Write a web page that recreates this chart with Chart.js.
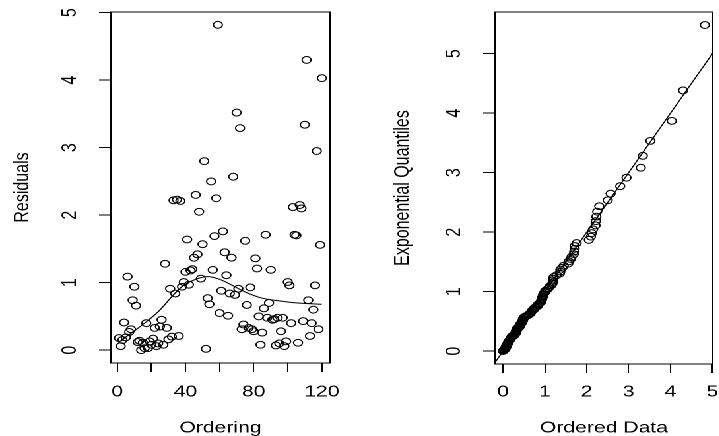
<!DOCTYPE html>
<html>
<head>
<meta charset="utf-8">
<script src="https://cdn.jsdelivr.net/npm/chart.js@4/dist/chart.umd.min.js"></script>
<style>
  html, body { margin: 0; padding: 0; background: #fff; overflow: hidden; }
  #wrap { position: absolute; left: 0; top: 0; width: 545px; height: 436px; transform: scaleX(1.32); transform-origin: 0 0; }
  #left { position: absolute; left: 0; top: 0; }
  #right { position: absolute; left: 272px; top: 0; }
</style>
</head>
<body>
<div id="wrap">
  <canvas id="left" width="272" height="436"></canvas>
  <canvas id="right" width="273" height="436"></canvas>
</div>
<script>
// data
var ordering = [
  1, 2, 3, 4, 5, 6, 7, 8, 9, 10, 11, 12, 13, 14, 15, 16, 17, 18, 19, 20,
  21, 22, 23, 24, 25, 26, 27, 28, 29, 30, 31, 32, 33, 34, 35, 36, 37, 38, 39, 40,
  41, 42, 43, 44, 45, 46, 47, 48, 49, 50, 51, 52, 53, 54, 55, 56, 57, 58, 59, 60,
  61, 62, 63, 64, 65, 66, 67, 68, 69, 70, 71, 72, 73, 74, 75, 76, 77, 78, 79, 80,
  81, 82, 83, 84, 85, 86, 87, 88, 89, 90, 91, 92, 93, 94, 95, 96, 97, 98, 99, 100,
  101, 102, 103, 104, 105, 106, 107, 108, 109, 110, 111, 112, 113, 114, 115, 116, 117, 118, 119, 120
];
var residuals = [
  0.18, 0.06, 0.15, 0.41, 0.19, 1.09, 0.27, 0.31, 0.74, 0.94,
  0.66, 0.12, 0.14, 0.00, 0.11, 0.03, 0.40, 0.03, 0.13, 0.08,
  0.17, 0.33, 0.06, 0.10, 0.35, 0.45, 0.08, 1.28, 0.33, 0.16,
  0.91, 0.20, 2.22, 0.84, 2.23, 0.21, 2.21, 0.94, 1.01, 1.16,
  1.64, 0.97, 1.18, 1.20, 1.37, 2.30, 1.42, 2.05, 1.06, 1.57,
  2.80, 0.02, 0.77, 0.68, 2.50, 1.19, 1.69, 2.25, 4.82, 0.55,
  0.88, 1.76, 1.45, 1.11, 0.51, 0.84, 1.37, 2.57, 0.82, 3.52,
  0.91, 3.29, 0.31, 0.38, 1.62, 0.67, 0.33, 0.93, 0.31, 0.28,
  1.36, 1.21, 0.50, 0.08, 0.26, 0.62, 1.71, 0.48, 0.70, 1.19,
  0.45, 0.46, 0.07, 0.48, 0.10, 0.28, 0.48, 0.06, 0.13, 1.01,
  0.96, 0.40, 2.12, 1.71, 1.70, 0.11, 2.15, 2.10, 0.43, 3.34,
  4.30, 0.74, 0.21, 0.40, 0.60, 0.96, 2.95, 0.31, 1.56, 4.03
];
// smooth curve on the left panel
var smoothX = [1, 8, 16, 24, 33, 39, 46, 53, 60, 66, 72, 78, 85, 95, 105, 120];
var smoothY = [0.12, 0.25, 0.40, 0.57, 0.82, 0.96, 1.05, 1.09, 1.05, 0.98, 0.90, 0.83, 0.77, 0.73, 0.70, 0.68];
// exponential quantiles on the right panel
var expQuantiles = [
  0.004, 0.013, 0.021, 0.030, 0.038, 0.047, 0.056, 0.065, 0.073, 0.082,
  0.092, 0.101, 0.110, 0.119, 0.129, 0.138, 0.148, 0.158, 0.167, 0.177,
  0.187, 0.197, 0.208, 0.218, 0.228, 0.239, 0.250, 0.260, 0.271, 0.282,
  0.293, 0.305, 0.316, 0.327, 0.339, 0.351, 0.363, 0.375, 0.387, 0.399,
  0.412, 0.424, 0.437, 0.450, 0.463, 0.477, 0.490, 0.504, 0.518, 0.532,
  0.546, 0.561, 0.575, 0.590, 0.605, 0.621, 0.636, 0.652, 0.668, 0.685,
  0.702, 0.718, 0.736, 0.753, 0.771, 0.789, 0.808, 0.827, 0.846, 0.866,
  0.886, 0.906, 0.927, 0.948, 0.970, 0.992, 1.015, 1.038, 1.062, 1.086,
  1.111, 1.137, 1.163, 1.190, 1.218, 1.247, 1.276, 1.306, 1.338, 1.370,
  1.403, 1.438, 1.473, 1.510, 1.549, 1.589, 1.631, 1.674, 1.719, 1.767,
  1.817, 1.870, 1.925, 1.984, 2.047, 2.113, 2.185, 2.262, 2.345, 2.436,
  2.536, 2.647, 2.773, 2.916, 3.083, 3.283, 3.535, 3.871, 4.382, 5.481
];
var refIntercept = 0;
var refSlope = 1;

var leftXTicks = [0, 20, 40, 60, 80, 100, 120];
var leftXLabels = [0, 40, 80, 120];
var leftYTicks = [0, 1, 2, 3, 4, 5];
var rightXTicks = [0, 1, 2, 3, 4, 5];
var rightYTicks = [0, 1, 2, 3, 4, 5];

var FONT = '16px "Liberation Sans", Arial, Helvetica, sans-serif';

function pairs(xs, ys) {
    var out = [];
    for (var i = 0; i < xs.length; i++) out.push({x: xs[i], y: ys[i]});
    return out;
}

// draws the R style box, tick labels and axis titles
var rFrame = {
    id: 'rFrame',
    afterDraw: function(chart, args, o) {
        var ctx = chart.ctx, a = chart.chartArea;
        var x = chart.scales.x, y = chart.scales.y;
        ctx.save();
        ctx.strokeStyle = '#000';
        ctx.lineWidth = 1;
        ctx.strokeRect(a.left, a.top, a.right - a.left, a.bottom - a.top);
        ctx.fillStyle = '#000';
        ctx.font = FONT;
        ctx.textAlign = 'center';
        ctx.textBaseline = 'middle';
        o.xLabels.forEach(function(v) {
            ctx.fillText(String(v), x.getPixelForValue(v), o.xTickY);
        });
        o.yLabels.forEach(function(v) {
            ctx.save();
            ctx.translate(a.left - o.yTickOff, y.getPixelForValue(v));
            ctx.rotate(-Math.PI / 2);
            ctx.fillText(String(v), 0, 0);
            ctx.restore();
        });
        ctx.fillText(o.xTitle, (a.left + a.right) / 2, o.xTitleY);
        ctx.translate(a.left - o.yTitleOff, (a.top + a.bottom) / 2);
        ctx.rotate(-Math.PI / 2);
        ctx.fillText(o.yTitle, 0, 0);
        ctx.restore();
    }
};

function axis(min, max, ticks, size, isX) {
    return {
        type: 'linear',
        min: min,
        max: max,
        afterBuildTicks: function(s) { s.ticks = ticks.map(function(v) { return {value: v}; }); },
        afterFit: function(s) { if (isX) s.height = size; else s.width = size; },
        grid: { drawOnChartArea: false, drawTicks: true, tickLength: 9, color: '#000', tickColor: '#000', lineWidth: 1 },
        border: { display: false },
        ticks: { display: false }
    };
}

var pointStyle = {
    showLine: false,
    pointStyle: 'circle',
    pointRadius: 3.4,
    pointBorderWidth: 1,
    pointBorderColor: '#000',
    pointBackgroundColor: 'rgba(0,0,0,0)'
};

var leftChart = new Chart(document.getElementById('left'), {
    type: 'scatter',
    data: {
        datasets: [
            Object.assign({ data: pairs(ordering, residuals) }, pointStyle),
            { data: pairs(smoothX, smoothY), showLine: true, pointRadius: 0, borderColor: '#000', borderWidth: 1, tension: 0.35 }
        ]
    },
    options: {
        responsive: false,
        animation: false,
        events: [],
        devicePixelRatio: 2,
        layout: { padding: { top: 12, right: 22, left: 0, bottom: 0 } },
        scales: {
            x: axis(-3.76, 124.76, leftXTicks, 73, true),
            y: axis(-0.19, 5.01, leftYTicks, 84, false)
        },
        plugins: {
            legend: { display: false },
            tooltip: { enabled: false },
            rFrame: { xLabels: leftXLabels, yLabels: leftYTicks, xTickY: 392, xTitleY: 428, yTickOff: 31, yTitleOff: 67, xTitle: 'Ordering', yTitle: 'Residuals' }
        }
    },
    plugins: [rFrame]
});

var orderedData = residuals.slice().sort(function(a, b) { return a - b; });
var rxMin = -0.19, rxMax = 5.01;

var rightChart = new Chart(document.getElementById('right'), {
    type: 'scatter',
    data: {
        datasets: [
            Object.assign({ data: pairs(orderedData, expQuantiles) }, pointStyle),
            { data: [{x: rxMin, y: refIntercept + refSlope * rxMin}, {x: rxMax, y: refIntercept + refSlope * rxMax}],
              showLine: true, pointRadius: 0, borderColor: '#000', borderWidth: 1 }
        ]
    },
    options: {
        responsive: false,
        animation: false,
        events: [],
        devicePixelRatio: 2,
        layout: { padding: { top: 12, right: 4, left: 0, bottom: 0 } },
        scales: {
            x: axis(rxMin, rxMax, rightXTicks, 72, true),
            y: axis(-0.215, 5.70, rightYTicks, 103, false)
        },
        plugins: {
            legend: { display: false },
            tooltip: { enabled: false },
            rFrame: { xLabels: rightXTicks, yLabels: rightYTicks, xTickY: 392, xTitleY: 428, yTickOff: 31, yTitleOff: 70, xTitle: 'Ordered Data', yTitle: 'Exponential Quantiles' }
        }
    },
    plugins: [rFrame]
});
</script>
</body>
</html>
